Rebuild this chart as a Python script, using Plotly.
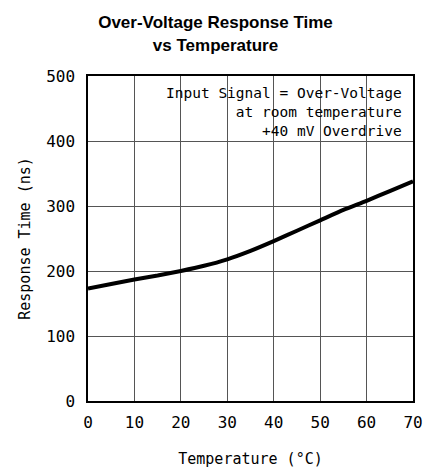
import plotly.graph_objects as go

temperature = [0, 5, 10, 15, 20, 25, 30, 35, 40, 45, 50, 55, 60, 65, 70]
response_time = [173, 180, 187, 193, 200, 208, 218, 231, 246, 262, 278, 294, 308, 323, 338]

x_ticks = [0, 10, 20, 30, 40, 50, 60, 70]
y_ticks = [0, 100, 200, 300, 400, 500]

fig = go.Figure()
fig.add_trace(go.Scatter(
    x=temperature, y=response_time, mode="lines",
    line=dict(color="black", width=4, shape="spline", smoothing=0.6),
    showlegend=False, hoverinfo="skip",
))

axis_common = dict(
    showgrid=True, gridcolor="#555555", gridwidth=1,
    showline=True, linecolor="black", linewidth=1.5, mirror=True,
    ticks="", zeroline=False, automargin=False,
    tickfont=dict(family="DejaVu Sans Mono", size=16, color="black"),
    title_font=dict(family="DejaVu Sans Mono", size=15, color="black"),
)

fig.update_layout(
    width=431, height=474,
    margin=dict(l=88, r=18, t=76, b=73),
    paper_bgcolor="white", plot_bgcolor="white",
    title=dict(
        text="<b>Over-Voltage Response Time<br>vs Temperature</b>",
        x=0.5, xanchor="center", y=0.94, yanchor="top",
        font=dict(family="Liberation Sans", size=17, color="black"),
    ),
    xaxis=dict(range=[0, 70], tickvals=x_ticks, ticklabelstandoff=6,
               title=dict(text="Temperature (°C)", standoff=23), **axis_common),
    yaxis=dict(range=[0, 500], tickvals=y_ticks, ticklabelstandoff=8,
               title=dict(text="Response Time (ns)", standoff=12), **axis_common),
    annotations=[dict(
        x=0.972, y=0.978, xref="paper", yref="paper", xanchor="right", yanchor="top",
        text="Input Signal = Over-Voltage<br>at room temperature<br>+40 mV Overdrive",
        align="right", showarrow=False,
        font=dict(family="DejaVu Sans Mono", size=14.5, color="black"),
    )],
)

fig.write_html("out.html", config={"displayModeBar": False},
               post_script="document.body.style.margin='0';")
